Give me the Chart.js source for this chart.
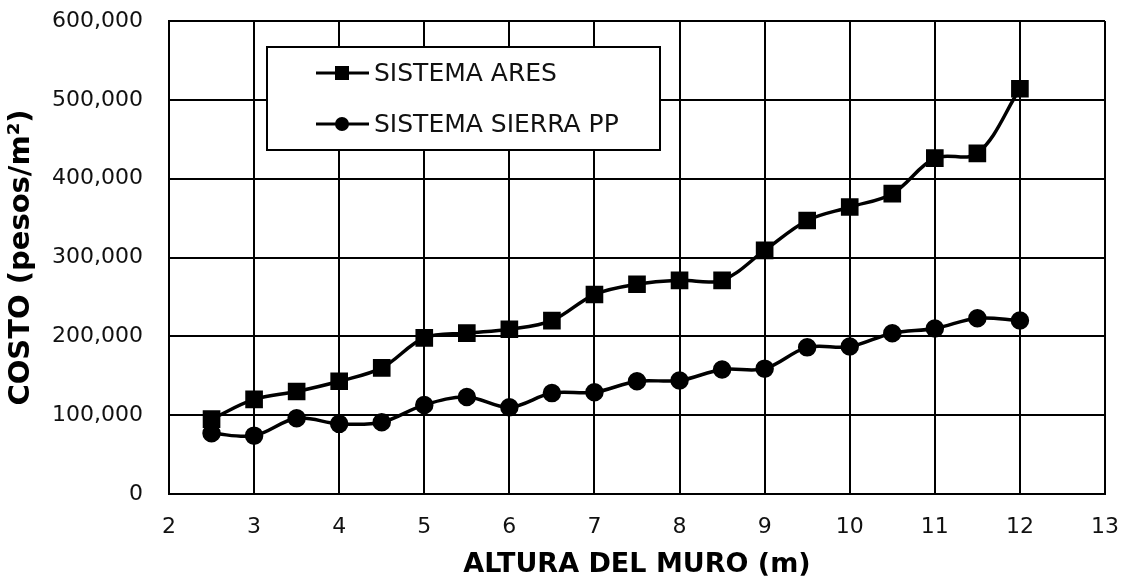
<!DOCTYPE html>
<html>
<head>
<meta charset="utf-8">
<script src="https://cdn.jsdelivr.net/npm/chart.js@4"></script>
<style>
  body { margin: 0; background: #fff; }
  canvas { display: block; }
</style>
</head>
<body>
<canvas id="costChart" width="1127" height="581"></canvas>
<script>
const alturas = [2.5, 3, 3.5, 4, 4.5, 5, 5.5, 6, 6.5, 7, 7.5, 8, 8.5, 9, 9.5, 10, 10.5, 11, 11.5, 12];
const ares = [95000, 120000, 130000, 143000, 160000, 198000, 204000, 209000, 220000, 253000,
              266000, 271000, 271000, 309000, 347000, 364000, 381000, 426000, 432000, 514000];
const sierra = [77000, 74000, 96000, 89000, 91000, 113000, 123000, 110000, 128000, 129000,
                143000, 144000, 158000, 159000, 186000, 187000, 204000, 210000, 223000, 220000];
const seriesNames = ['SISTEMA ARES', 'SISTEMA SIERRA PP'];

const FONT = 'DejaVu Sans, Verdana, sans-serif';

// legend box drawn inside the plot, like the original
const boxLegend = {
  id: 'boxLegend',
  afterDraw(chart) {
    const ctx = chart.ctx;
    ctx.save();
    ctx.fillStyle = '#fff';
    ctx.fillRect(267, 47, 393, 103);
    ctx.strokeStyle = '#000';
    ctx.lineWidth = 2;
    ctx.strokeRect(267, 47, 393, 103);
    const rows = [73, 124];
    chart.data.datasets.forEach((ds, i) => {
      const y = rows[i];
      ctx.beginPath();
      ctx.lineWidth = 3;
      ctx.moveTo(316, y);
      ctx.lineTo(369, y);
      ctx.stroke();
      ctx.fillStyle = '#000';
      if (ds.pointStyle === 'rect') {
        ctx.fillRect(335, y - 7, 14, 14);
      } else {
        ctx.beginPath();
        ctx.arc(342, y, 7, 0, Math.PI * 2);
        ctx.fill();
      }
      ctx.font = '25px ' + FONT;
      ctx.textBaseline = 'middle';
      ctx.fillStyle = '#111';
      ctx.fillText(ds.label, 374, y + 1);
    });
    ctx.restore();
  }
};

new Chart(document.getElementById('costChart'), {
  type: 'line',
  data: {
    datasets: [
      {
        label: seriesNames[0],
        data: alturas.map((x, i) => ({ x: x, y: ares[i] })),
        borderColor: '#000',
        backgroundColor: '#000',
        borderWidth: 3.5,
        pointStyle: 'rect',
        pointRadius: 10,
        tension: 0.35
      },
      {
        label: seriesNames[1],
        data: alturas.map((x, i) => ({ x: x, y: sierra[i] })),
        borderColor: '#000',
        backgroundColor: '#000',
        borderWidth: 3.5,
        pointStyle: 'circle',
        pointRadius: 7.5,
        tension: 0.35
      }
    ]
  },
  options: {
    responsive: false,
    animation: false,
    layout: { padding: { top: 21, right: 22, left: 0, bottom: 0 } },
    plugins: {
      legend: { display: false },
      tooltip: { enabled: false }
    },
    scales: {
      x: {
        type: 'linear',
        min: 2,
        max: 13,
        ticks: { stepSize: 1, color: '#111', font: { family: FONT, size: 22 }, padding: 20 },
        grid: { color: '#000', lineWidth: 2, drawTicks: false },
        border: { color: '#000', width: 2 },
        title: {
          display: true,
          text: 'ALTURA DEL MURO (m)',
          color: '#000',
          font: { family: FONT, size: 27, weight: 'bold' },
          padding: { top: 0, bottom: 0 }
        },
        afterFit(scale) {
          scale.height = 87;
          scale.paddingLeft = 0;
          scale.paddingRight = 0;
        }
      },
      y: {
        min: 0,
        max: 600000,
        ticks: {
          stepSize: 100000,
          color: '#111',
          font: { family: FONT, size: 22 },
          padding: 26,
          callback: v => v.toLocaleString('en-US')
        },
        grid: { color: '#000', lineWidth: 2, drawTicks: false },
        border: { color: '#000', width: 2 },
        title: {
          display: true,
          text: 'COSTO (pesos/m²)',
          color: '#000',
          font: { family: FONT, size: 29, weight: 'bold' },
          padding: { top: 4, bottom: 0 }
        },
        afterFit(scale) {
          scale.width = 169;
          scale.paddingTop = 0;
          scale.paddingBottom = 0;
        }
      }
    }
  },
  plugins: [boxLegend]
});
</script>
</body>
</html>
